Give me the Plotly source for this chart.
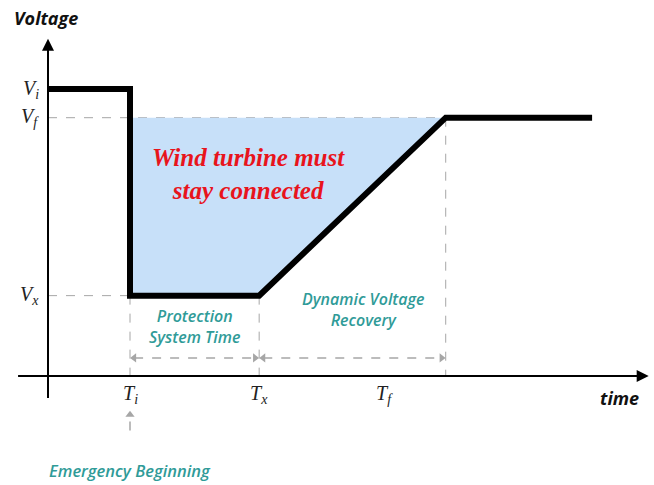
import plotly.graph_objects as go

# ---- data (arbitrary units) ----
time_marks = ["T<sub>i</sub>", "T<sub>x</sub>", "T<sub>f</sub>"]
time_vals = [2.0, 5.15, 9.7]          # Ti, Tx, Tf
t_end = 13.27
volt_marks = ["V<sub>i</sub>", "V<sub>f</sub>", "V<sub>x</sub>"]
volt_vals = [1.0, 0.9, 0.28]          # Vi, Vf, Vx

Ti, Tx, Tf = time_vals
Vi, Vf, Vx = volt_vals

curve_x = [0, Ti, Ti, Tx, Tf, t_end]
curve_y = [Vi, Vi, Vx, Vx, Vf, Vf]

fill_x = [Ti, Tf, Tx, Ti, Ti]
fill_y = [Vf, Vf, Vx, Vx, Vf]

TEAL = "#2f9b98"
GREY = "#a6a6a6"
SANS = "Open Sans"
SERIF = "Liberation Serif"

fig = go.Figure()

# shaded region
fig.add_trace(go.Scatter(x=fill_x, y=fill_y, fill="toself", mode="none",
                         fillcolor="#c7e0f9", hoverinfo="skip"))

# grey dashed guide lines
guides = [
    (0, Vf, Tf, Vf),
    (0, Vx, Ti, Vx),
    (Ti, Vx, Ti, 0),
    (Tx, Vx, Tx, 0),
    (Tf, Vf, Tf, 0),
]
for x0, y0, x1, y1 in guides:
    fig.add_shape(type="line", x0=x0, y0=y0, x1=x1, y1=y1,
                  line=dict(color=GREY, width=1, dash="dash"), layer="below")

# main voltage curve
fig.add_trace(go.Scatter(x=curve_x, y=curve_y, mode="lines",
                         line=dict(color="black", width=6), hoverinfo="skip"))

# axes
y_arrow = 0.063
fig.add_shape(type="line", x0=-0.73, y0=0, x1=14.5, y1=0,
              line=dict(color="black", width=2))
fig.add_shape(type="line", x0=0, y0=-0.077, x1=0, y1=1.15,
              line=dict(color="black", width=2))
fig.add_annotation(x=14.65, y=0, ax=14.3, ay=0, axref="x", ayref="y",
                   text="", showarrow=True, arrowhead=2, arrowsize=1.2,
                   arrowwidth=2, arrowcolor="black")
fig.add_annotation(x=0, y=1.175, ax=0, ay=1.1, axref="x", ayref="y",
                   text="", showarrow=True, arrowhead=2, arrowsize=1.2,
                   arrowwidth=2, arrowcolor="black")

# double-headed dashed interval arrows
for a, b in [(Ti, Tx), (Tx, Tf)]:
    fig.add_trace(go.Scatter(x=[a + 0.1, b - 0.1], y=[y_arrow, y_arrow],
                             mode="lines", line=dict(color=GREY, width=1.5, dash="dash"),
                             hoverinfo="skip"))
    fig.add_trace(go.Scatter(x=[a + 0.1, b - 0.1], y=[y_arrow, y_arrow],
                             mode="markers",
                             marker=dict(symbol=["triangle-left", "triangle-right"],
                                         size=8, color=GREY),
                             hoverinfo="skip"))

# emergency arrow
fig.add_trace(go.Scatter(x=[Ti, Ti], y=[-0.19, -0.14], mode="lines",
                         line=dict(color=GREY, width=1.5, dash="dash"), hoverinfo="skip"))
fig.add_trace(go.Scatter(x=[Ti], y=[-0.135], mode="markers",
                         marker=dict(symbol="triangle-up", size=8, color=GREY),
                         hoverinfo="skip"))

# voltage labels
for lab, v in zip(volt_marks, volt_vals):
    fig.add_annotation(x=-0.17, y=v, text=f"<i>{lab}</i>", showarrow=False,
                       xanchor="right", yanchor="middle",
                       font=dict(family=SERIF, size=20, color="#222222"))
# time labels
time_label_x = [Ti, Tx, Tx + 0.67 * (Tf - Tx)]
for lab, t in zip(time_marks, time_label_x):
    fig.add_annotation(x=t, y=-0.066, text=f"<i>{lab}</i>", showarrow=False,
                       xanchor="center", yanchor="middle",
                       font=dict(family=SERIF, size=20, color="#222222"))

fig.add_annotation(x=-0.05, y=1.247, text="<b><i>Voltage</i></b>", showarrow=False,
                   xanchor="center", yanchor="middle",
                   font=dict(family=SANS, size=18, color="#111111"))
fig.add_annotation(x=13.95, y=-0.077, text="<b><i>time</i></b>", showarrow=False,
                   xanchor="center", yanchor="middle",
                   font=dict(family=SANS, size=18, color="#111111"))

fig.add_annotation(x=4.88, y=0.704, text="<b><i>Wind turbine must<br>stay connected</i></b>",
                   showarrow=False, xanchor="center", yanchor="middle",
                   font=dict(family=SERIF, size=25, color="#e8141c"))

fig.add_annotation(x=(Ti + Tx) / 2, y=0.171, text="<i>Protection<br>System Time</i>",
                   showarrow=False, xanchor="center", yanchor="middle",
                   font=dict(family=SANS, size=16, color=TEAL, weight=600))
fig.add_annotation(x=7.68, y=0.233, text="<i>Dynamic Voltage<br>Recovery</i>",
                   showarrow=False, xanchor="center", yanchor="middle",
                   font=dict(family=SANS, size=16, color=TEAL, weight=600))
fig.add_annotation(x=Ti, y=-0.328, text="<i>Emergency Beginning</i>",
                   showarrow=False, xanchor="center", yanchor="middle",
                   font=dict(family=SANS, size=16.5, color=TEAL, weight=600))

fig.update_layout(
    width=654, height=485,
    margin=dict(l=0, r=0, t=0, b=0),
    paper_bgcolor="white", plot_bgcolor="white",
    showlegend=False,
    xaxis=dict(range=[-1.1707, 14.78], visible=False, fixedrange=True),
    yaxis=dict(range=[-0.3798, 1.3101], visible=False, fixedrange=True),
)

fig.write_html("out.html", config={"displayModeBar": False},
               post_script="document.body.style.margin='0';")
